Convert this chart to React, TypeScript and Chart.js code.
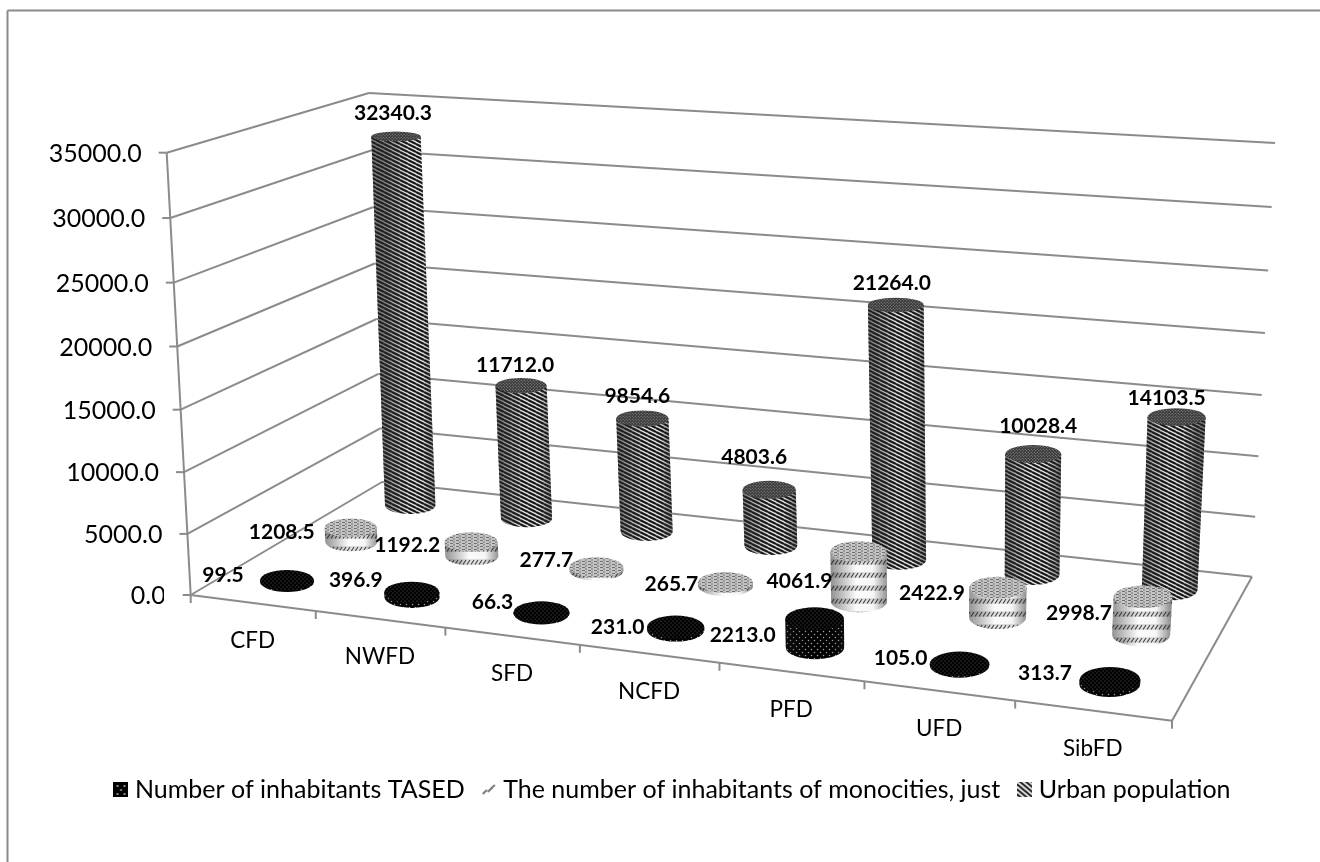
import React, { useEffect, useRef } from "react";
import { Chart, registerables, BarController, LinearScale } from "chart.js";

Chart.register(...registerables);

// ---- data ----
const districts = ["CFD", "NWFD", "SFD", "NCFD", "PFD", "UFD", "SibFD"];
const tasedInhabitants = [99.5, 396.9, 66.3, 231.0, 2213.0, 105.0, 313.7];
const monocityInhabitants = [1208.5, 1192.2, 277.7, 265.7, 4061.9, 2422.9, 2998.7];
const urbanPopulation = [32340.3, 11712.0, 9854.6, 4803.6, 21264.0, 10028.4, 14103.5];
const seriesNames = [
  "Number of inhabitants TASED",
  "The number of inhabitants of monocities, just",
  "Urban population",
];

// ---- box geometry: floor and ceiling quads (front-left, front-right, back-right, back-left) ----
type Pt = [number, number];
const floorQuad: Pt[] = [[190.7, 595], [1172, 720.7], [1252, 576.7], [382, 482]];
const ceilingQuad: Pt[] = [[166.7, 152.7], [1213, 228], [1275, 143], [369, 93]];
const verticalBow = 1.04;
const rowDepth = [1 / 6, 1 / 2, 5 / 6];
const radiusV = 0.083;
const radiusAt = (u: number) => 0.0317 - 0.0036 * u;
const FONT = "Lato, 'Open Sans', sans-serif";
const LINE = "#8b8b8b";

// label offsets in px from the cylinder's top centre, per series and category
const labelShift: Pt[][] = [
  [[-64, -5], [-56, -12], [-49, -10], [-58, 0], [-72, 16], [-59, -6], [-65, -7]],
  [[-69, 4], [-64, 3], [-50, -7], [-54, 2], [-59, 30], [-66, 6], [-64, 16]],
  [[-3, -23], [-6, -20], [-5, -22], [-15, -33], [-4, -22], [5, -28], [-10, -19]],
];

function squareToQuad(q: Pt[]) {
  const [[x0, y0], [x1, y1], [x2, y2], [x3, y3]] = q;
  const dx1 = x1 - x2, dx2 = x3 - x2, sx = x0 - x1 + x2 - x3;
  const dy1 = y1 - y2, dy2 = y3 - y2, sy = y0 - y1 + y2 - y3;
  const den = dx1 * dy2 - dx2 * dy1;
  const g = (sx * dy2 - dx2 * sy) / den;
  const h = (dx1 * sy - sx * dy1) / den;
  const a = x1 - x0 + g * x1, b = x3 - x0 + h * x3;
  const d = y1 - y0 + g * y1, e = y3 - y0 + h * y3;
  return (u: number, v: number): Pt => {
    const w = g * u + h * v + 1;
    return [(a * u + b * v + x0) / w, (d * u + e * v + y0) / w];
  };
}
const onFloor = squareToQuad(floorQuad);
const onCeiling = squareToQuad(ceilingQuad);

// u: along the categories, v: into the depth, h: decimal height on the value axis
function project(u: number, v: number, h: number): Pt {
  const k = h / (h + (1 - h) * verticalBow);
  const a = onFloor(u, v), b = onCeiling(u, v);
  return [a[0] + (b[0] - a[0]) * k, a[1] + (b[1] - a[1]) * k];
}

const decimalOf = (scale: any, value: number) => (value - scale.min) / (scale.max - scale.min);

// Value axis whose ticks and labels follow the slanted front-left edge of the box
class WallScale extends LinearScale {
  static id = "wall";
  static defaults = LinearScale.defaults;
  getPixelForValue(value: number) {
    return project(0, 0, decimalOf(this, value))[1];
  }
  _computeLabelItems(chartArea: any) {
    const items = (LinearScale.prototype as any)._computeLabelItems.call(this, chartArea);
    items.forEach((item: any, i: number) => {
      const tick = (this as any).ticks[i];
      item.options.translation[0] = project(0, 0, decimalOf(this, tick.value))[0] - 25;
      item.options.translation[1] += 1;
      item.options.textAlign = "right";
    });
    return items;
  }
}

type Skin = { side: CanvasPattern; cap: CanvasPattern; edge: number };

function tileCanvas(w: number, h: number, paint: (c: CanvasRenderingContext2D) => void) {
  const c = document.createElement("canvas");
  c.width = w;
  c.height = h;
  paint(c.getContext("2d")!);
  return c;
}

const dots = (bg: string, fg: string, r: number, s: number) => (c: CanvasRenderingContext2D) => {
  c.fillStyle = bg;
  c.fillRect(0, 0, s, s);
  c.fillStyle = fg;
  for (const [x, y] of [[s / 4, s / 4], [(3 * s) / 4, (3 * s) / 4]]) {
    c.beginPath();
    c.arc(x, y, r, 0, Math.PI * 2);
    c.fill();
  }
};
const diagonal = (bg: string, fg: string, w: number, tw: number, th: number) => (c: CanvasRenderingContext2D) => {
  c.fillStyle = bg;
  c.fillRect(0, 0, c.canvas.width, c.canvas.height);
  c.strokeStyle = fg;
  c.lineWidth = w;
  for (let i = -1; i <= c.canvas.height / th + c.canvas.width / tw; i++) {
    c.beginPath();
    c.moveTo(-tw, (i - 1) * th - (c.canvas.width / tw) * th);
    c.lineTo(c.canvas.width + tw, (i + 1) * th);
    c.stroke();
  }
};
const bands = (c: CanvasRenderingContext2D) => {
  c.fillStyle = "#ffffff";
  c.fillRect(0, 0, 8, 13);
  c.fillStyle = "#e6e6e6";
  c.fillRect(0, 0, 8, 6);
  c.strokeStyle = "#4a4a4a";
  c.lineWidth = 1.2;
  for (const x of [1, 5, 9]) {
    c.beginPath();
    c.moveTo(x - 2, 5.5);
    c.lineTo(x + 1, 1);
    c.stroke();
  }
};
const speckle = (c: CanvasRenderingContext2D) => {
  c.fillStyle = "#c4c4c4";
  c.fillRect(0, 0, 6, 3);
  c.fillStyle = "#707070";
  c.fillRect(0, 0, 3, 1);
  c.fillRect(3, 1.5, 2, 1);
};

function makeSkins(ctx: CanvasRenderingContext2D): Skin[] {
  const pat = (w: number, h: number, p: (c: CanvasRenderingContext2D) => void) =>
    ctx.createPattern(tileCanvas(w, h, p), "repeat")!;
  const hatch = (c: CanvasRenderingContext2D) => {
    c.fillStyle = "#e8e8e8";
    c.fillRect(0, 0, 8, 4);
    c.strokeStyle = "#161616";
    c.lineWidth = 2.1;
    for (let i = -1; i <= 1; i++) {
      c.beginPath();
      c.moveTo(0, i * 4);
      c.lineTo(8, (i + 1) * 4);
      c.stroke();
    }
  };
  return [
    { side: pat(6, 6, dots("#000000", "#a8a8a8", 0.75, 6)), cap: pat(4, 4, dots("#000000", "#777777", 0.5, 4)), edge: 0.3 },
    { side: pat(8, 13, bands), cap: pat(6, 3, speckle), edge: 0.5 },
    { side: pat(8, 4, hatch), cap: pat(3, 3, dots("#3a3a3a", "#9a9a9a", 0.6, 3)), edge: 0.55 },
  ];
}

// Small legend keys, one per series
function makeSwatches() {
  return [
    tileCanvas(15, 15, (c) => {
      c.fillStyle = "#000";
      c.fillRect(0, 0, 15, 15);
      c.fillStyle = "#bbb";
      for (const [x, y] of [[4, 4], [11, 4], [7.5, 8], [4, 12], [11, 12]]) {
        c.beginPath();
        c.arc(x, y, 1, 0, Math.PI * 2);
        c.fill();
      }
    }),
    tileCanvas(15, 15, (c) => {
      c.strokeStyle = "#777";
      c.lineWidth = 2;
      for (const [x, y] of [[3, 10], [8, 8], [11, 5]]) {
        c.beginPath();
        c.moveTo(x - 2, y + 2);
        c.lineTo(x + 2, y - 2);
        c.stroke();
      }
    }),
    tileCanvas(15, 15, diagonal("#e4e4e4", "#222222", 2, 6, 5)),
  ];
}

function drawCylinder(c: CanvasRenderingContext2D, u: number, v: number, h: number, skin: Skin) {
  const ru = radiusAt(u);
  const ellipse = (hh: number) => {
    const [cx, cy] = project(u, v, hh);
    const rx = Math.abs(project(u + ru, v, hh)[0] - project(u - ru, v, hh)[0]) / 2;
    const ry = Math.abs(project(u, v + radiusV, hh)[1] - project(u, v - radiusV, hh)[1]) / 2;
    return { cx, cy, rx, ry };
  };
  const b = ellipse(0);
  const t = ellipse(h);
  c.save();
  c.beginPath();
  c.moveTo(t.cx - t.rx, t.cy);
  c.lineTo(b.cx - b.rx, b.cy);
  c.ellipse(b.cx, b.cy, b.rx, b.ry, 0, Math.PI, 0, true);
  c.lineTo(t.cx + t.rx, t.cy);
  c.closePath();
  c.fillStyle = skin.side;
  c.fill();
  const g = c.createLinearGradient(b.cx - b.rx, 0, b.cx + b.rx, 0);
  g.addColorStop(0, `rgba(40,40,40,${skin.edge})`);
  g.addColorStop(0.45, "rgba(40,40,40,0.02)");
  g.addColorStop(0.75, "rgba(40,40,40,0.04)");
  g.addColorStop(1, `rgba(40,40,40,${skin.edge})`);
  c.fillStyle = g;
  c.fill();
  c.beginPath();
  c.ellipse(t.cx, t.cy, t.rx, t.ry, 0, 0, Math.PI * 2);
  c.fillStyle = skin.cap;
  c.fill();
  c.restore();
}

// Draws its bars as cylinders standing on the projected floor
class CylinderController extends BarController {
  static id = "cylinder";
  static defaults = BarController.defaults;
  static overrides = BarController.overrides;
  draw() {
    const chart = (this as any).chart;
    const index = (this as any).index;
    const skin: Skin = chart.options.plugins.box3d.skins[index];
    const x = chart.scales.x;
    const y = chart.scales.y;
    const meta = (this as any)._cachedMeta;
    meta.data.forEach((_: unknown, i: number) => {
      const value = (this as any).getParsed(i).y;
      const u = (x.getPixelForValue(i) - x.left) / x.width;
      drawCylinder(chart.ctx, u, rowDepth[index], decimalOf(y, value), skin);
    });
  }
}
Chart.register(WallScale, CylinderController);

const box3d = {
  id: "box3d",
  beforeDatasetsDraw(chart: any) {
    const c: CanvasRenderingContext2D = chart.ctx;
    const y = chart.scales.y;
    const x = chart.scales.x;
    const seg = (a: Pt, b: Pt) => {
      c.beginPath();
      c.moveTo(a[0], a[1]);
      c.lineTo(b[0], b[1]);
      c.stroke();
    };
    c.save();
    c.strokeStyle = LINE;
    c.lineWidth = 2;
    // outer frame, left and top edges
    seg([7.5, 862], [7.5, 10.5]);
    seg([7.5, 10.5], [1320, 10.5]);
    // left wall, back wall and tick marks for each value tick
    for (const tick of y.ticks) {
      const h = decimalOf(y, tick.value);
      const front = project(0, 0, h);
      seg(front, project(0, 1, h));
      seg(project(0, 1, h), project(1, 1, h));
      seg([front[0] - 8, front[1]], front);
    }
    seg(project(0, 0, 0), project(0, 0, 1));
    // floor outline
    seg(project(0, 0, 0), project(1, 0, 0));
    seg(project(1, 0, 0), project(1, 1, 0));
    // category tick marks and labels
    const n = districts.length;
    for (let i = 0; i <= n; i++) {
      const p = project(i / n, 0, 0);
      seg(p, [p[0], p[1] + 8]);
    }
    c.fillStyle = "#000";
    c.font = `22.5px ${FONT}`;
    c.textAlign = "center";
    c.textBaseline = "middle";
    x.getLabels().forEach((label: string, i: number) => {
      const u = (x.getPixelForValue(i) - x.left) / x.width;
      const p = project(u, 0, 0);
      c.fillText(label, p[0], p[1] + 38);
    });
    c.restore();
  },
  afterDatasetsDraw(chart: any) {
    const c: CanvasRenderingContext2D = chart.ctx;
    const y = chart.scales.y;
    const x = chart.scales.x;
    c.save();
    c.fillStyle = "#000";
    c.font = `bold 21px ${FONT}`;
    c.textAlign = "center";
    c.textBaseline = "middle";
    chart.data.datasets.forEach((ds: any, s: number) => {
      ds.data.forEach((value: number, i: number) => {
        const u = (x.getPixelForValue(i) - x.left) / x.width;
        const p = project(u, rowDepth[s], decimalOf(y, value));
        c.fillText(value.toFixed(1), p[0] + labelShift[s][i][0], p[1] + labelShift[s][i][1]);
      });
    });
    c.restore();
  },
};

export default function App() {
  const ref = useRef<HTMLCanvasElement>(null);
  useEffect(() => {
    document.body.style.margin = "0";
    const ctx = ref.current!.getContext("2d")!;
    const skins = makeSkins(ctx);
    const swatches = makeSwatches();
    const series = [tasedInhabitants, monocityInhabitants, urbanPopulation];
    const chart = new Chart(ctx, {
      type: "cylinder" as any,
      data: {
        labels: districts,
        datasets: series.map((data, i) => ({
          label: seriesNames[i],
          data,
          backgroundColor: skins[i].side,
        })),
      },
      plugins: [box3d],
      options: {
        animation: false,
        responsive: false,
        layout: { padding: { left: 30, right: 0, top: 60, bottom: 50 } },
        plugins: {
          tooltip: { enabled: false },
          box3d: { skins },
          legend: {
            position: "bottom",
            labels: {
              usePointStyle: true,
              pointStyleWidth: 3,
              boxHeight: 15,
              padding: 23,
              color: "#000",
              font: { family: FONT, size: 25 },
              generateLabels: (c: any) =>
                (Chart.defaults.plugins.legend.labels as any)
                  .generateLabels(c)
                  .map((item: any, i: number) => ({ ...item, pointStyle: swatches[i] })),
            },
          },
        } as any,
        scales: {
          x: { display: false, type: "category" },
          y: {
            type: "wall" as any,
            min: 0,
            max: 35000,
            border: { display: false },
            grid: { display: false },
            afterFit: (s: any) => {
              s.width = 134;
            },
            ticks: {
              stepSize: 5000,
              autoSkip: false,
              padding: 8,
              color: "#000",
              font: { family: FONT, size: 25 },
              callback: (v: any) => Number(v).toFixed(1),
            },
          },
        },
      },
    });
    return () => chart.destroy();
  }, []);
  return <canvas ref={ref} width={1320} height={862} style={{ display: "block" }} />;
}
